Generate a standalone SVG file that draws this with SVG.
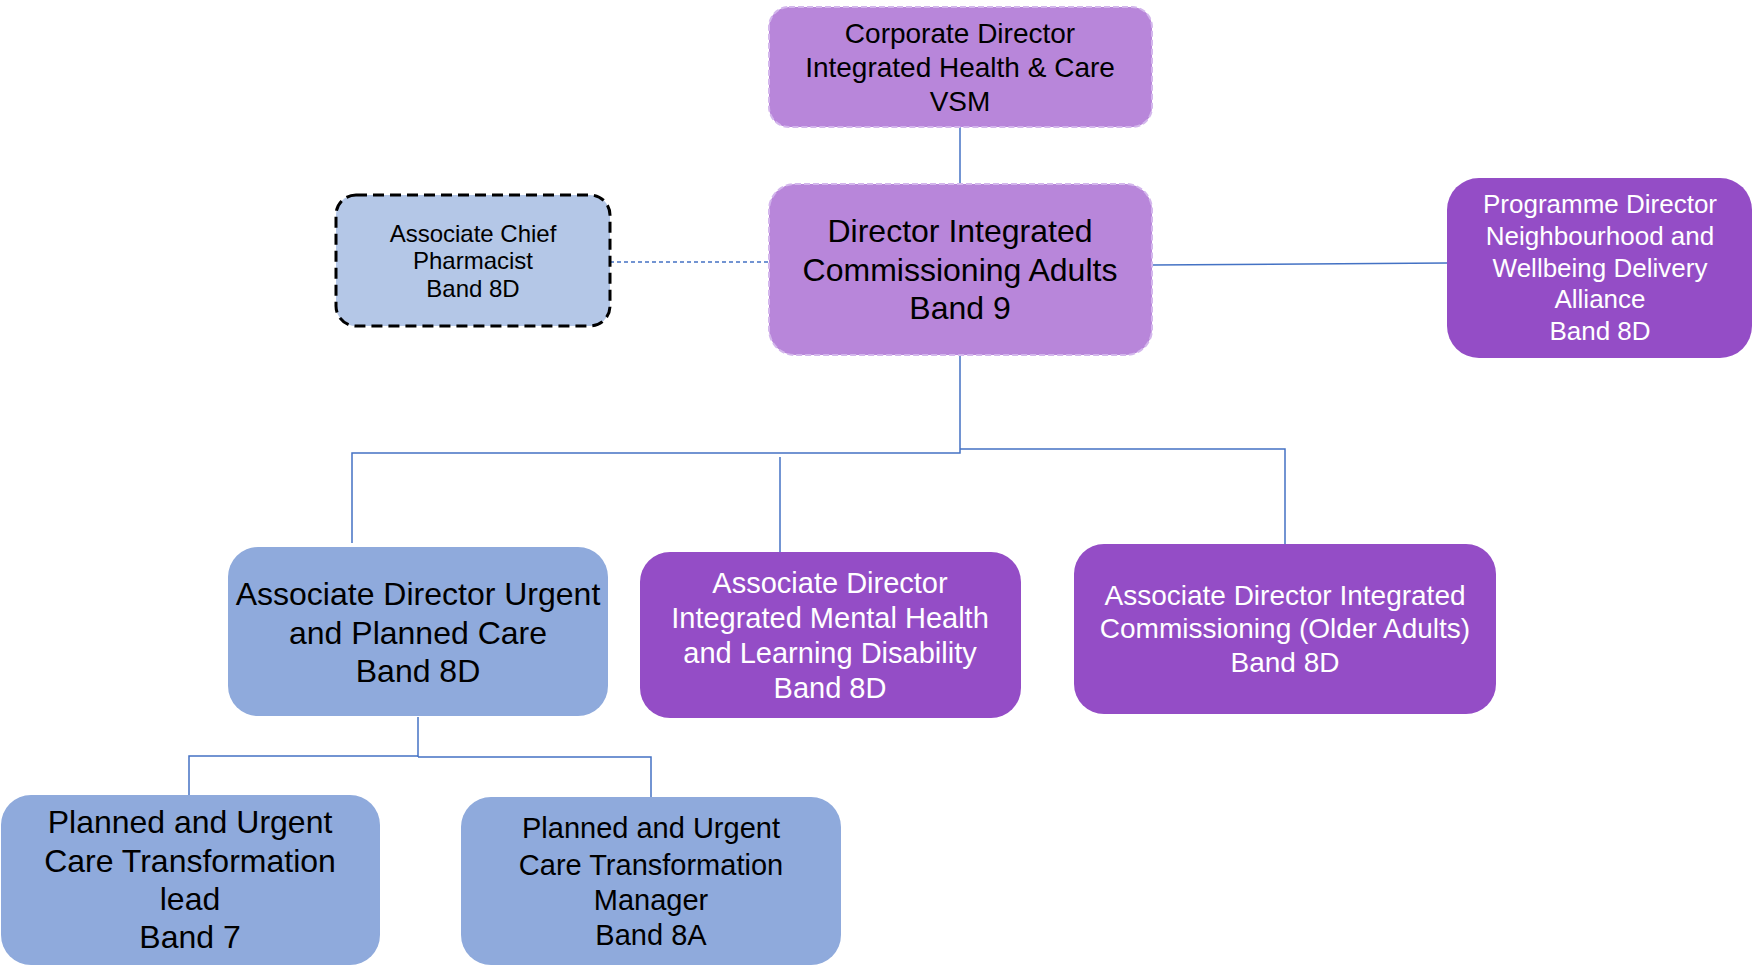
<svg xmlns="http://www.w3.org/2000/svg" width="1758" height="967" viewBox="0 0 1758 967">
<style>
.t{font-family:"Liberation Sans",Arial,sans-serif;text-anchor:middle;fill:#000}
.w{fill:#fff}
.lp{fill:#B886DA;stroke:#D3B6EC;stroke-width:2;stroke-dasharray:6 3}
.mp{fill:#944DC6}
.bl{fill:#8FAADC}
.lb{fill:#B4C7E7;stroke:#000;stroke-width:3;stroke-dasharray:11 6}
.c{fill:none;stroke:#4472C4;stroke-width:1.5}
</style>
<rect width="1758" height="967" fill="#fff"/>
<g id="connectors">
<path class="c" d="M960 127V184"/>
<path class="c" d="M610 262H768" stroke-dasharray="4 3"/>
<path class="c" d="M1152 265L1447 263"/>
<path class="c" d="M960 355V453H352V543"/>
<path class="c" d="M960 449H1285V544"/>
<path class="c" d="M780 457V552"/>
<path class="c" d="M418 717V757"/>
<path class="c" d="M418 756H189V795"/>
<path class="c" d="M418 757H651V797"/>
</g>
<g id="corporate-director">
<rect class="lp" x="769" y="7" width="383" height="120" rx="20"/>
<text class="t" font-size="28"><tspan x="960" y="43">Corporate Director</tspan><tspan x="960" y="77">Integrated Health &amp; Care</tspan><tspan x="960" y="111">VSM</tspan></text>
</g>
<g id="director">
<rect class="lp" x="769" y="184" width="383" height="171" rx="26"/>
<text class="t" font-size="32"><tspan x="960" y="242">Director Integrated</tspan><tspan x="960" y="281">Commissioning Adults</tspan><tspan x="960" y="319">Band 9</tspan></text>
</g>
<g id="pharmacist">
<rect class="lb" x="336" y="195" width="274" height="131" rx="20"/>
<text class="t" font-size="24"><tspan x="473" y="242">Associate Chief</tspan><tspan x="473" y="269">Pharmacist</tspan><tspan x="473" y="297">Band 8D</tspan></text>
</g>
<g id="programme-director">
<rect class="mp" x="1447" y="178" width="305" height="180" rx="32"/>
<text class="t w" font-size="26"><tspan x="1600" y="213">Programme Director</tspan><tspan x="1600" y="245">Neighbourhood and</tspan><tspan x="1600" y="277">Wellbeing Delivery</tspan><tspan x="1600" y="308">Alliance</tspan><tspan x="1600" y="340">Band 8D</tspan></text>
</g>
<g id="ad-urgent">
<rect class="bl" x="228" y="547" width="380" height="169" rx="30"/>
<text class="t" font-size="32"><tspan x="418" y="605">Associate Director Urgent</tspan><tspan x="418" y="644">and Planned Care</tspan><tspan x="418" y="682">Band 8D</tspan></text>
</g>
<g id="ad-mental">
<rect class="mp" x="640" y="552" width="381" height="166" rx="30"/>
<text class="t w" font-size="29"><tspan x="830" y="593">Associate Director</tspan><tspan x="830" y="628">Integrated Mental Health</tspan><tspan x="830" y="663">and Learning Disability</tspan><tspan x="830" y="698">Band 8D</tspan></text>
</g>
<g id="ad-older">
<rect class="mp" x="1074" y="544" width="422" height="170" rx="30"/>
<text class="t w" font-size="28"><tspan x="1285" y="605">Associate Director Integrated</tspan><tspan x="1285" y="638">Commissioning (Older Adults)</tspan><tspan x="1285" y="672">Band 8D</tspan></text>
</g>
<g id="pu-lead">
<rect class="bl" x="1" y="795" width="379" height="170" rx="30"/>
<text class="t" font-size="32"><tspan x="190" y="833">Planned and Urgent</tspan><tspan x="190" y="872">Care Transformation</tspan><tspan x="190" y="910">lead</tspan><tspan x="190" y="948">Band 7</tspan></text>
</g>
<g id="pu-manager">
<rect class="bl" x="461" y="797" width="380" height="168" rx="30"/>
<text class="t" font-size="29"><tspan x="651" y="838">Planned and Urgent</tspan><tspan x="651" y="875">Care Transformation</tspan><tspan x="651" y="910">Manager</tspan><tspan x="651" y="945">Band 8A</tspan></text>
</g>
</svg>
